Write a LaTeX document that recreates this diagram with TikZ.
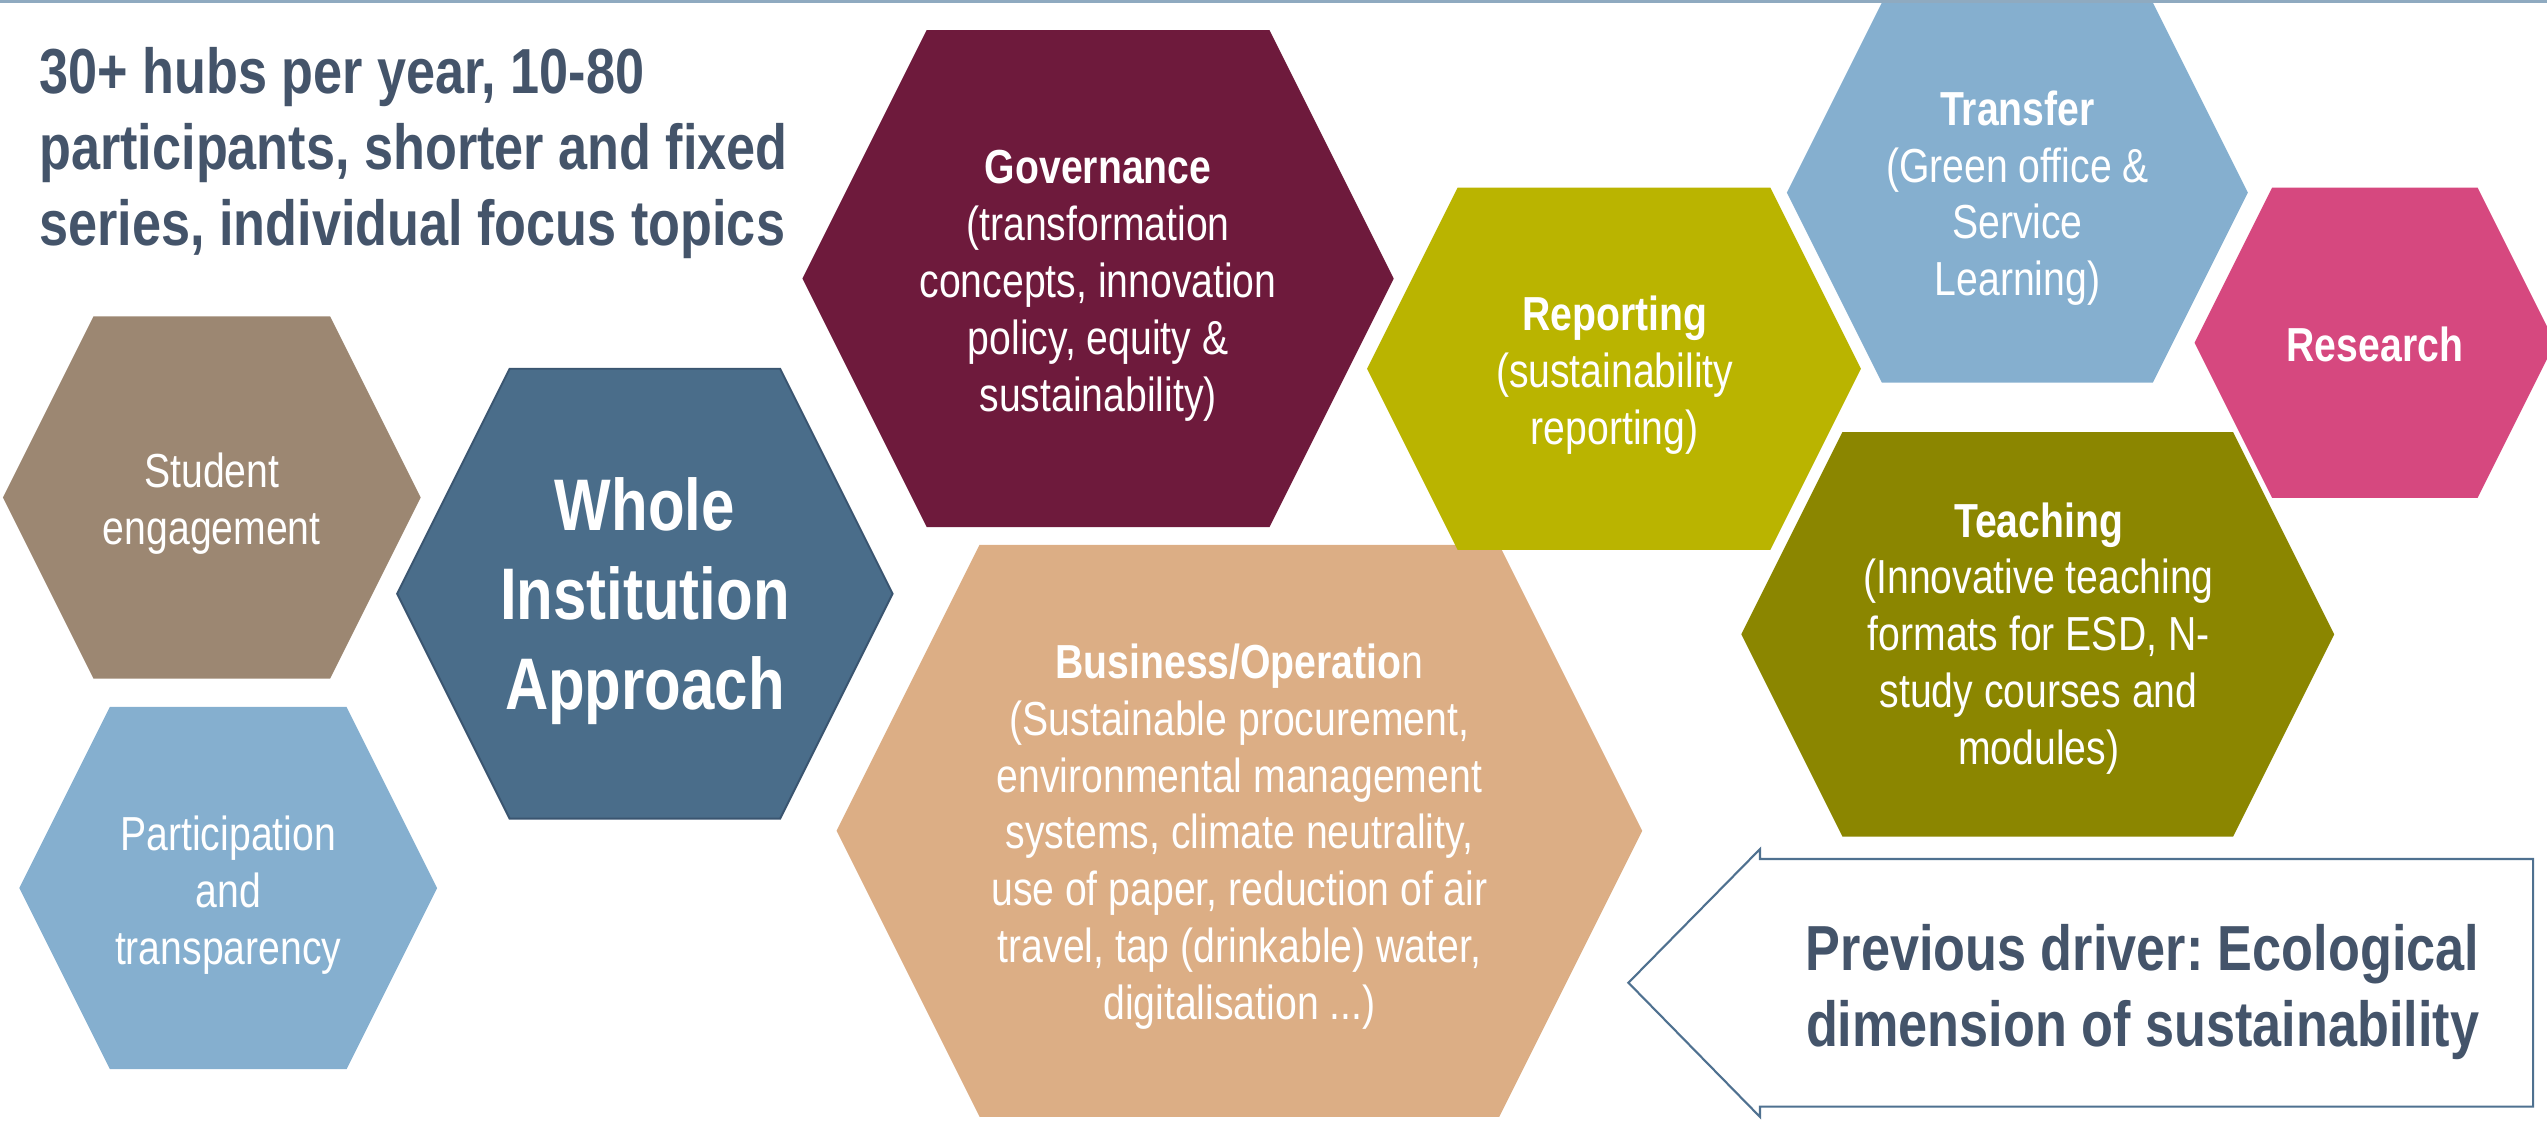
\documentclass[tikz,border=0pt]{standalone}
\usepackage{fontspec}
\setmainfont{Liberation Sans}[FakeStretch=0.82]
\frenchspacing

\definecolor{slate}{HTML}{44546A}
\definecolor{topline}{HTML}{8FAAC0}
\definecolor{studentc}{HTML}{9C8772}
\definecolor{skyc}{HTML}{85AFCF}
\definecolor{wholec}{HTML}{4A6D8A}
\definecolor{wholeedge}{HTML}{3A5570}
\definecolor{govc}{HTML}{6E1A3C}
\definecolor{bizc}{HTML}{DCAE85}
\definecolor{reportc}{HTML}{BAB400}
\definecolor{teachc}{HTML}{8B8600}
\definecolor{researchc}{HTML}{D6487F}
\definecolor{arrowedge}{HTML}{4F7190}

\tikzset{
  cell/.style={align=center, text=white, inner sep=0pt, font=\fontsize{29.4pt}{35pt}\selectfont},
  core/.style={cell, font=\bfseries\fontsize{45pt}{55pt}\selectfont},
  note/.style={inner sep=0pt, text=slate, font=\bfseries\fontsize{39.2pt}{46.8pt}\selectfont}
}

% fill, centre x, centre y, half width, half height
\newcommand{\hexcell}[5]{%
  \pgfmathsetmacro{\hexin}{0.5*min(#4,#5)}
  \fill[#1] (#2-#4,#3) -- (#2-#4+\hexin,#3-#5) -- (#2+#4-\hexin,#3-#5)
    -- (#2+#4,#3) -- (#2+#4-\hexin,#3+#5) -- (#2-#4+\hexin,#3+#5) -- cycle;}

\begin{document}
\begin{tikzpicture}[x=1pt,y=-1pt]
  \useasboundingbox (0,0) rectangle (1568,692);

  \hexcell{studentc}{130.4}{306.3}{128.6}{111.5}
  \hexcell{skyc}{140.5}{546.7}{128.6}{111.5}
  \hexcell{wholec,draw=wholeedge,line width=1.2pt}{397}{365.5}{152.5}{138.5}
  \hexcell{govc}{676}{171.5}{182}{153}
  \hexcell{bizc}{763}{511.5}{248}{176}
  \hexcell{reportc}{993.6}{227}{152}{111.5}
  \hexcell{skyc}{1241.9}{118.6}{141.9}{117}
  \hexcell{researchc}{1462}{211}{111}{95.5}
  \hexcell{teachc}{1254.5}{390.5}{182.5}{124.5}

  \draw[line width=2pt, topline] (0,1) -- (1568,1);
  \draw[line width=1.3pt, arrowedge, fill=white] (1002.5,605) -- (1083.5,522.7)
    -- (1083.5,528.8) -- (1559.4,528.8) -- (1559.4,681.3) -- (1083.5,681.3)
    -- (1083.5,687.6) -- cycle;

  \node[note, align=left, anchor=north west] (hubs) at (24,29)
    {30+ hubs per year, 10-80\\participants, shorter and fixed\\series, individual focus topics};
  \node[cell] (student) at (130.4,310) {Student\\engagement};
  \node[cell] (particip) at (140.5,551) {Participation\\and\\transparency};
  \node[core] (whole) at (397,370) {Whole\\Institution\\Approach};
  \node[cell] (gov) at (676,176)
    {\textbf{Governance}\\(transformation\\concepts, innovation\\policy, equity \&\\sustainability)};
  \node[cell] (biz) at (763,515)
    {\textbf{Business/Operatio}n\\(Sustainable procurement,\\environmental management\\systems, climate neutrality,\\use of paper, reduction of air\\travel, tap (drinkable) water,\\digitalisation ...)};
  \node[cell] (report) at (994,231) {\textbf{Reporting}\\(sustainability\\reporting)};
  \node[cell] (transfer) at (1242,122) {\textbf{Transfer}\\(Green office \&\\Service\\Learning)};
  \node[cell] (research) at (1462,212) {\textbf{Research}};
  \node[cell] (teach) at (1255,393)
    {\textbf{Teaching}\\(Innovative teaching\\formats for ESD, N-\\study courses and\\modules)};
  \node[note, align=center] (driver) at (1319,611)
    {Previous driver: Ecological\\dimension of sustainability};
\end{tikzpicture}
\end{document}
